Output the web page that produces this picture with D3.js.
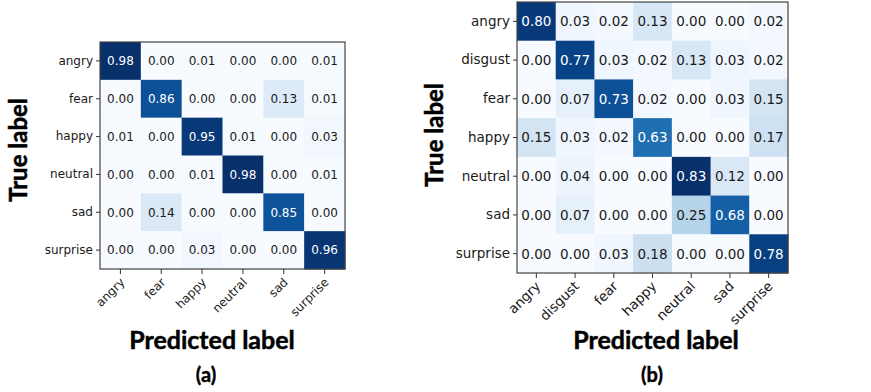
<!DOCTYPE html>
<html>
<head>
<meta charset="utf-8">
<script src="https://cdn.jsdelivr.net/npm/d3@7"></script>
<style>
  body { margin: 0; background: #fff; }
  svg { display: block; }
</style>
</head>
<body>
<div id="chart"></div>
<script>
// (a) 6-class confusion matrix
const labelsA = ["angry", "fear", "happy", "neutral", "sad", "surprise"];
const valuesA = [
  [0.98, 0.00, 0.01, 0.00, 0.00, 0.01],
  [0.00, 0.86, 0.00, 0.00, 0.13, 0.01],
  [0.01, 0.00, 0.95, 0.01, 0.00, 0.03],
  [0.00, 0.00, 0.01, 0.98, 0.00, 0.01],
  [0.00, 0.14, 0.00, 0.00, 0.85, 0.00],
  [0.00, 0.00, 0.03, 0.00, 0.00, 0.96]
];

// (b) 7-class confusion matrix
const labelsB = ["angry", "disgust", "fear", "happy", "neutral", "sad", "surprise"];
const valuesB = [
  [0.80, 0.03, 0.02, 0.13, 0.00, 0.00, 0.02],
  [0.00, 0.77, 0.03, 0.02, 0.13, 0.03, 0.02],
  [0.00, 0.07, 0.73, 0.02, 0.00, 0.03, 0.15],
  [0.15, 0.03, 0.02, 0.63, 0.00, 0.00, 0.17],
  [0.00, 0.04, 0.00, 0.00, 0.83, 0.12, 0.00],
  [0.00, 0.07, 0.00, 0.00, 0.25, 0.68, 0.00],
  [0.00, 0.00, 0.03, 0.18, 0.00, 0.00, 0.78]
];

const width = 871;
const height = 392;

const svg = d3.select("#chart")
    .append("svg")
    .attr("width", width)
    .attr("height", height);

function confusion(box, labels, values, opts) {
    const x = d3.scaleBand().domain(labels).range([box.x0, box.x1]);
    const y = d3.scaleBand().domain(labels).range([box.y0, box.y1]);
    const vmax = d3.max(values.flat());
    const color = d3.scaleSequential(d3.interpolateBlues).domain([0, vmax]);

    const g = svg.append("g");

    const cells = [];
    values.forEach((row, i) => row.forEach((v, j) => cells.push({ t: labels[i], p: labels[j], v: v })));

    g.append("g")
        .selectAll("rect")
        .data(cells)
        .join("rect")
        .attr("x", d => x(d.p))
        .attr("y", d => y(d.t))
        .attr("width", x.bandwidth() + 0.5)
        .attr("height", y.bandwidth() + 0.5)
        .attr("fill", d => color(d.v));

    g.append("g")
        .selectAll("text")
        .data(cells)
        .join("text")
        .attr("x", d => x(d.p) + x.bandwidth() / 2)
        .attr("y", d => y(d.t) + y.bandwidth() / 2)
        .attr("dy", "0.36em")
        .attr("text-anchor", "middle")
        .attr("font-family", "DejaVu Sans")
        .attr("font-size", opts.cellFont)
        .attr("fill", d => d.v > vmax / 2 ? "#fff" : "#1a1a1a")
        .text(d => d.v.toFixed(2));

    // frame
    g.append("rect")
        .attr("x", box.x0)
        .attr("y", box.y0)
        .attr("width", box.x1 - box.x0)
        .attr("height", box.y1 - box.y0)
        .attr("fill", "none")
        .attr("stroke", "#444")
        .attr("stroke-width", 1.2);

    // y axis
    const yAxis = d3.axisLeft(y).tickSize(4).tickPadding(3);
    const ya = g.append("g").attr("transform", `translate(${box.x0},0)`).call(yAxis);
    ya.select(".domain").remove();
    ya.selectAll("line").attr("stroke", "#333");
    ya.selectAll("text")
        .attr("font-family", "DejaVu Sans")
        .attr("font-size", opts.tickFont)
        .attr("fill", "#1a1a1a");

    // x axis
    const xAxis = d3.axisBottom(x).tickSize(5).tickPadding(3);
    const xa = g.append("g").attr("transform", `translate(0,${box.y1})`).call(xAxis);
    xa.select(".domain").remove();
    xa.selectAll("line").attr("stroke", "#333");
    xa.selectAll("text")
        .attr("font-family", "DejaVu Sans")
        .attr("font-size", opts.tickFont)
        .attr("fill", "#1a1a1a")
        .attr("text-anchor", "end")
        .attr("dy", null)
        .attr("y", 0)
        .attr("transform", "translate(5,14) rotate(-45)");

    // titles
    const titleFont = "Lato, 'Liberation Sans', sans-serif";
    svg.append("text")
        .attr("transform", `translate(${opts.yTitleX},${opts.yTitleY}) rotate(-90)`)
        .attr("text-anchor", "middle")
        .attr("font-family", titleFont)
        .attr("font-weight", 700)
        .attr("font-size", 24)
        .attr("fill", "#000")
        .attr("stroke", "#000")
        .attr("stroke-width", 0.5)
        .text("True label");

    svg.append("text")
        .attr("x", opts.xTitleX)
        .attr("y", 349)
        .attr("text-anchor", "middle")
        .attr("font-family", titleFont)
        .attr("font-weight", 700)
        .attr("font-size", 25)
        .attr("fill", "#000")
        .attr("stroke", "#000")
        .attr("stroke-width", 0.5)
        .text("Predicted label");

    svg.append("text")
        .attr("x", opts.captionX)
        .attr("y", 382)
        .attr("text-anchor", "middle")
        .attr("font-family", titleFont)
        .attr("font-weight", 700)
        .attr("font-size", 20)
        .attr("fill", "#000")
        .attr("stroke", "#000")
        .attr("stroke-width", 0.4)
        .text(opts.caption);
}

confusion({ x0: 100, x1: 345, y0: 42, y1: 269 }, labelsA, valuesA,
    { cellFont: 12, tickFont: 12, yTitleX: 27, yTitleY: 150, xTitleX: 212, captionX: 206, caption: "(a)" });

confusion({ x0: 517, x1: 788, y0: 2, y1: 273 }, labelsB, valuesB,
    { cellFont: 13.5, tickFont: 13.5, yTitleX: 443, yTitleY: 135, xTitleX: 656, captionX: 652, caption: "(b)" });
</script>
</body>
</html>
